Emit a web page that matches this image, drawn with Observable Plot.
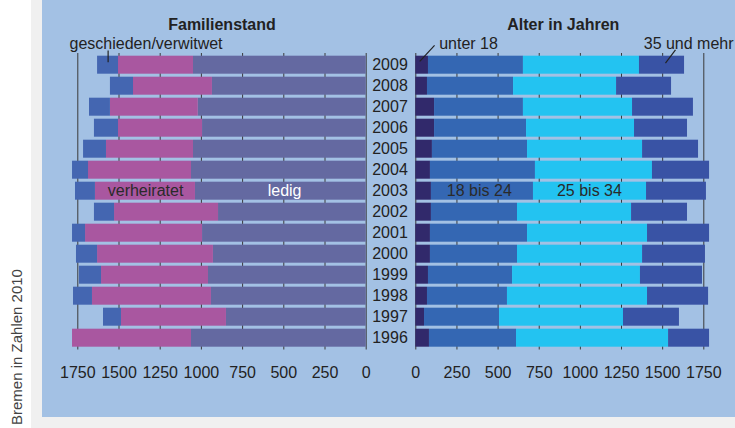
<!DOCTYPE html>
<html><head><meta charset="utf-8">
<script src="https://cdn.jsdelivr.net/npm/d3@7"></script>
<script src="https://cdn.jsdelivr.net/npm/@observablehq/plot@0.6"></script>
<style>
body{margin:0;background:#fff;}
#wrap{position:relative;width:735px;height:428px;overflow:hidden;font-family:"Liberation Sans",Arial,sans-serif;}
#grey{position:absolute;left:31px;top:0;width:704px;height:428px;background:#f0f0f0;}
#blue{position:absolute;left:42px;top:0;width:693px;height:416.5px;background:#a3c1e4;}
#side{position:absolute;left:15.5px;top:347px;transform:translate(-50%,-50%) rotate(-90deg);white-space:nowrap;font-size:15px;color:#444;}
#wrap svg{position:absolute;left:0;top:0;}
</style></head><body>
<div id="wrap"><div id="grey"></div><div id="blue"></div><div id="side">Bremen in Zahlen 2010</div></div>
<script>
// Years (top to bottom)
const years = [2009, 2008, 2007, 2006, 2005, 2004, 2003, 2002, 2001, 2000, 1999, 1998, 1997, 1996];
// Familienstand
const ledig       = [1048, 933, 1019, 993, 1048, 1060, 1036, 896, 993, 927, 957, 939, 848, 1060];
const verheiratet = [455, 479, 533, 510, 528, 625, 607, 631, 710, 703, 649, 722, 637, 722];
const geschieden  = [127, 140, 127, 146, 139, 97, 121, 122, 79, 128, 134, 115, 109, 0];
// Alter in Jahren
const unter18  = [77, 71, 114, 114, 101, 89, 95, 95, 89, 89, 77, 71, 53, 83];
const bis24    = [577, 523, 540, 559, 578, 638, 620, 523, 590, 529, 511, 486, 456, 529];
const bis34    = [705, 626, 663, 656, 699, 711, 687, 693, 729, 760, 777, 851, 753, 924];
const undMehr  = [274, 334, 370, 322, 340, 347, 364, 340, 377, 382, 377, 371, 340, 249];

const xTicks = [0, 250, 500, 750, 1000, 1250, 1500, 1750];

const leftCats = ["ledig", "verheiratet", "geschieden/verwitwet"];
const leftColors = ["#6469a1", "#a957a0", "#4466b1"];
const rightCats = ["unter 18", "18 bis 24", "25 bis 34", "35 und mehr"];
const rightColors = ["#31296b", "#3467b3", "#23c3f1", "#3953a5"];

function stackRows(series, cats) {
  const rows = [];
  years.forEach((yr, i) => {
    let acc = 0;
    series.forEach((s, k) => {
      rows.push({year: yr, cat: cats[k], x1: acc, x2: acc + s[i], y1: yr - 0.5, y2: yr + 0.5});
      acc += s[i];
    });
  });
  return rows;
}
const leftRows = stackRows([ledig, verheiratet, geschieden], leftCats);
const rightRows = stackRows([unter18, bis24, bis34, undMehr], rightCats);

// annotation labels
const leftInBar = [{text: "verheiratet", x: 1339, y: 2003, fill: "#2a2a2a"}, {text: "ledig", x: 495, y: 2003, fill: "#ffffff"}];
const rightInBar = [{text: "18 bis 24", x: 386, y: 2003}, {text: "25 bis 34", x: 1055, y: 2003}];
const leftTop = [{text: "geschieden/verwitwet", x: 1800, y: 2010.03}];
const rightTop = [{text: "unter 18", x: 142, y: 2010.03}, {text: "35 und mehr", x: 1385, y: 2010.03}];
const leftLeaders = [{x1: 1566, y1: 2009.70, x2: 1566, y2: 2009.14}];
const rightLeaders = [{x1: 114, y1: 2009.94, x2: 24, y2: 2009.18}, {x1: 1578, y1: 2009.73, x2: 1517, y2: 2009.10}];

const style = {background: "transparent", fontFamily: "'Liberation Sans', Arial, sans-serif", fontSize: "16px", color: "#222", overflow: "visible"};
const yScale = {domain: [2009.5, 1995.5], range: [54.2, 348.2], label: null};

const left = Plot.plot({
  width: 735, height: 417,
  marginLeft: 77.3, marginRight: 369.3, marginTop: 53, marginBottom: 67.5,
  style,
  x: {domain: [0, 1750], range: [365.7, 77.3], label: null, ticks: xTicks, tickSize: 0, tickPadding: 17, tickFormat: d => String(d)},
  y: {...yScale, axis: null},
  color: {domain: leftCats, range: leftColors},
  marks: [
    Plot.ruleX(xTicks, {stroke: "#3a3a3a", strokeWidth: 1}),
    Plot.rect(leftRows, {x1: "x1", x2: "x2", y1: "y1", y2: "y2", fill: "cat", insetTop: 1.5, insetBottom: 1.5}),
    Plot.text(["Familienstand"], {text: d => d, frameAnchor: "top", dy: -35, fontWeight: "bold", fill: "#222"}),
    Plot.text(leftInBar, {x: "x", y: "y", text: "text", fill: "fill"}),
    Plot.text(leftTop, {x: "x", y: "y", text: "text", textAnchor: "start", fill: "#222"}),
    Plot.link(leftLeaders, {x1: "x1", y1: "y1", x2: "x2", y2: "y2", stroke: "#222", strokeWidth: 1.2})
  ]
});

const right = Plot.plot({
  width: 735, height: 417,
  marginLeft: 415.3, marginRight: 31.7, marginTop: 53, marginBottom: 67.5,
  style,
  x: {domain: [0, 1750], range: [415.3, 703.3], label: null, ticks: xTicks, tickSize: 0, tickPadding: 17, tickFormat: d => String(d)},
  y: {...yScale, ticks: years, tickSize: 0, tickPadding: 8, tickFormat: d => String(d)},
  color: {domain: rightCats, range: rightColors},
  marks: [
    Plot.ruleX(xTicks, {stroke: "#3a3a3a", strokeWidth: 1}),
    Plot.rect(rightRows, {x1: "x1", x2: "x2", y1: "y1", y2: "y2", fill: "cat", insetTop: 1.5, insetBottom: 1.5}),
    Plot.text(["Alter in Jahren"], {text: d => d, frameAnchor: "top", dy: -35, dx: 3.5, fontWeight: "bold", fill: "#222"}),
    Plot.text(rightInBar, {x: "x", y: "y", text: "text", fill: "#2a2a2a"}),
    Plot.text(rightTop, {x: "x", y: "y", text: "text", textAnchor: "start", fill: "#222"}),
    Plot.link(rightLeaders, {x1: "x1", y1: "y1", x2: "x2", y2: "y2", stroke: "#222", strokeWidth: 1.2})
  ]
});

const wrap = document.getElementById("wrap");
wrap.appendChild(left);
wrap.appendChild(right);
</script>
</body></html>
